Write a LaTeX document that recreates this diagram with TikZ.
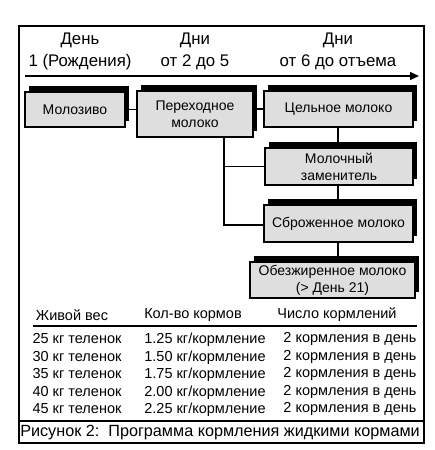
\documentclass[tikz,border=0pt]{standalone}
\usepackage{fontspec}
\setmainfont{Liberation Sans}
\usetikzlibrary{shadows,arrows.meta}
\begin{document}
\begin{tikzpicture}[x=1pt,y=-1pt,
  box/.style={draw=black, line width=1.1pt, fill=black!13, align=center, inner sep=0pt,
    font=\fontsize{14}{17}\selectfont,
    general shadow={fill=black, shadow xshift=3.5pt, shadow yshift=6pt}},
  hdr/.style={align=center, font=\fontsize{16.8}{22}\selectfont, inner sep=0pt},
  th/.style={font=\fontsize{14.5}{16}\selectfont, inner sep=0pt},
  td/.style={font=\fontsize{14.5}{16}\selectfont, inner sep=0pt},
  conn/.style={line width=1.1pt}]
\useasboundingbox (0,0) rectangle (434,450);
\fill[white] (0,0) rectangle (434,450);
\draw[line width=1.5pt] (19,26) rectangle (424,443);
\draw[line width=1.3pt] (19,421) -- (424,421);
% headers
\node[hdr] (h1) at (80,51) {День\\1 (Рождения)};
\node[hdr] (h2) at (195,51) {Дни\\от 2 до 5};
\node[hdr] (h3) at (338,51) {Дни\\от 6 до отъема};
\coordinate (as) at (25,76);
\coordinate (ae) at (419,76);
\draw[line width=1.5pt,-{Triangle[length=9pt,width=8pt]}] (as) -- (ae);
% boxes
\node[box, minimum width=100pt, minimum height=35pt] (moloz) at (75,109.5) {Молозиво};
\node[box, minimum width=116pt, minimum height=46pt] (perekh) at (195,114) {Переходное\\молоко};
\node[box, minimum width=149pt, minimum height=36pt] (cel) at (338.5,109) {Цельное молоко};
\node[box, minimum width=148pt, minimum height=37pt] (mol) at (339,166.5) {Молочный\\заменитель};
\node[box, minimum width=149pt, minimum height=37pt] (sbr) at (338.5,223.5) {Сброженное молоко};
\node[box, minimum width=165pt, minimum height=36pt] (obez) at (332.5,280) {Обезжиренное молоко\\(> День 21)};
% connectors
\coordinate (ptop) at (224,137);
\coordinate (pbot) at (224,225);
\draw[conn] (moloz.east) -- (moloz.east -| perekh.west);
\draw[conn] (perekh.east |- cel.west) -- (cel.west);
\draw[conn] (ptop) -- (pbot) -- (pbot -| sbr.west);
\draw[conn] (ptop |- mol.west) -- (mol.west);
\draw[conn] (cel.south -| 338,0) -- (mol.north -| 338,0);
\draw[conn] (mol.south -| 338,0) -- (sbr.north -| 338,0);
\draw[conn] (sbr.south -| 338,0) -- (obez.north -| 338,0);
% table
\node[th] (c1) at (72,315) {Живой вес};
\node[th] (c2) at (193,315) {Кол-во кормов};
\node[th] (c3) at (337,315) {Число кормлений};
\coordinate (ls) at (33,326);
\coordinate (le) at (417,326);
\draw[line width=1.3pt] (ls) -- (le);
\foreach \w/\k [count=\i from 0] in {25/1.25,30/1.50,35/1.75,40/2.00,45/2.25}{
  \node[td] (r\i a) at (77,339+17.5*\i) {\w\ кг теленок};
  \node[td] (r\i b) at (205,340+17.5*\i) {\k\ кг/кормление};
  \node[td] (r\i c) at (350,339+17.5*\i) {2 кормления в день};
}
\node[font=\fontsize{16.2}{18}\selectfont, inner sep=0pt] (cap) at (220,433) {Рисунок 2:\ \ Программа кормления жидкими кормами};
\end{tikzpicture}
\end{document}
